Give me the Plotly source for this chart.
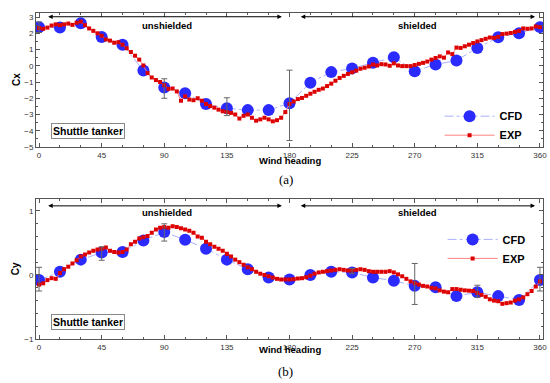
import plotly.graph_objects as go

# ---------------- data ----------------
cfd_heading = [0, 15, 30, 45, 60, 75, 90, 105, 120, 135, 150, 165, 180,
               195, 210, 225, 240, 255, 270, 285, 300, 315, 330, 345, 360]
cfd_cx = [2.38, 2.35, 2.62, 1.77, 1.30, -0.29, -1.34, -1.69, -2.36, -2.62, -2.73, -2.73, -2.30,
          -1.04, -0.39, -0.16, 0.18, 0.53, -0.33, 0.08, 0.32, 1.10, 1.75, 2.01, 2.38]
cfd_cy = [-0.08, 0.05, 0.24, 0.35, 0.36, 0.54, 0.67, 0.55, 0.41, 0.24, 0.09, -0.04, -0.07,
          0.0, 0.05, 0.04, -0.04, -0.09, -0.17, -0.19, -0.33, -0.27, -0.33, -0.39, -0.08]

exp_heading = list(range(0, 361, 3))
exp_cx = [2.32, 2.28, 2.35, 2.48, 2.55, 2.50, 2.55, 2.60, 2.52, 2.65,
          2.72, 2.50, 2.30, 2.15, 2.00, 1.85, 1.62, 1.55, 1.42, 1.45,
          1.30, 1.08, 0.85, 0.62, 0.38, 0.02, -0.45, -0.72, -0.88, -1.00,
          -1.20, -1.42, -1.40, -1.58, -2.15, -1.88, -2.08, -2.12, -2.00, -2.15,
          -2.35, -2.48, -2.58, -2.70, -2.80, -2.85, -2.90, -3.00, -3.25, -3.08,
          -3.00, -3.20, -3.38, -3.30, -3.20, -3.30, -3.42, -3.35, -3.20, -2.85,
          -2.35, -2.20, -2.05, -1.98, -1.85, -1.72, -1.60, -1.48, -1.40, -1.25,
          -1.10, -0.92, -0.75, -0.62, -0.50, -0.40, -0.30, -0.18, -0.12, -0.04,
          0.08, 0.02, 0.10, 0.08, 0.00, 0.15, 0.02, -0.02, -0.02, -0.02,
          0.05, 0.12, 0.18, 0.26, 0.38, 0.48, 0.58, 0.50, 0.82, 0.72,
          1.12, 1.10, 1.20, 1.30, 1.40, 1.50, 1.58, 1.66, 1.74, 1.72,
          1.78, 1.95, 1.98, 2.02, 2.08, 2.15, 2.30, 2.28, 2.30, 2.42,
          2.38]
exp_cy = [-0.15, -0.13, -0.08, -0.05, -0.06, 0.03, 0.09, 0.13, 0.18, 0.23,
          0.29, 0.32, 0.35, 0.38, 0.40, 0.41, 0.43, 0.38, 0.36, 0.35,
          0.36, 0.40, 0.48, 0.52, 0.57, 0.59, 0.61, 0.66, 0.71, 0.74,
          0.75, 0.74, 0.76, 0.75, 0.73, 0.71, 0.69, 0.66, 0.60, 0.58,
          0.52, 0.48, 0.44, 0.41, 0.38, 0.33, 0.29, 0.24, 0.20, 0.16,
          0.12, 0.09, 0.05, 0.02, 0.00, -0.02, -0.04, -0.06, -0.07, -0.07,
          -0.07, -0.065, -0.055, -0.05, -0.035, -0.01, 0.02, 0.04, 0.05, 0.06,
          0.07, 0.08, 0.09, 0.08, 0.07, 0.07, 0.08, 0.09, 0.08, 0.06,
          0.05, 0.05, 0.05, 0.05, 0.06, 0.04, 0.01, -0.02, -0.06, -0.10,
          -0.13, -0.15, -0.17, -0.18, -0.20, -0.21, -0.24, -0.26, -0.27, -0.22,
          -0.22, -0.23, -0.24, -0.245, -0.25, -0.28, -0.31, -0.34, -0.38, -0.40,
          -0.41, -0.45, -0.44, -0.43, -0.40, -0.38, -0.35, -0.30, -0.25, -0.18,
          -0.10]

# uncertainty bars (heading, low, high)
err_cx_heading = [0, 90, 135, 180]
err_cx_low = [2.05, -2.00, -3.07, -4.60]
err_cx_high = [2.70, -0.80, -1.97, -0.27]
err_cy_heading = [0, 45, 90, 225, 270, 315, 360]
err_cy_low = [-0.25, 0.23, 0.53, 0.02, -0.46, -0.35, -0.25]
err_cy_high = [0.12, 0.44, 0.80, 0.10, 0.18, -0.16, 0.12]

x_ticks = [0, 45, 90, 135, 180, 225, 270, 315, 360]
cx_ticks = [3, 2, 1, 0, -1, -2, -3, -4, -5]
cy_ticks = [1, 0, -1]

# ---------------- styles ----------------
CFD_MARKER = "#2b2bff"
CFD_LINE = "#aab0ff"
EXP_MARKER = "#dd0000"
EXP_LINE = "#ff8080"
AXIS = "#555555"
FONT = "Liberation Sans"

fig = go.Figure()

panels = [
    dict(cx="x", cy="y", yv_cfd=cfd_cx, yv_exp=exp_cx, eh=err_cx_heading, el=err_cx_low, ehh=err_cx_high, legend="legend"),
    dict(cx="x2", cy="y2", yv_cfd=cfd_cy, yv_exp=exp_cy, eh=err_cy_heading, el=err_cy_low, ehh=err_cy_high, legend="legend2"),
]
for p in panels:
    fig.add_trace(go.Scatter(
        x=cfd_heading, y=p["yv_cfd"], xaxis=p["cx"], yaxis=p["cy"], name="CFD",
        mode="lines+markers", legend=p["legend"],
        line=dict(color=CFD_LINE, width=1, dash="dashdot"),
        marker=dict(color=CFD_MARKER, size=12, symbol="circle")))
    fig.add_trace(go.Scatter(
        x=exp_heading, y=p["yv_exp"], xaxis=p["cx"], yaxis=p["cy"], name="EXP",
        mode="lines+markers", legend=p["legend"],
        line=dict(color=EXP_LINE, width=1),
        marker=dict(color=EXP_MARKER, size=4, symbol="square")))
    mid = [(a + b) / 2 for a, b in zip(p["el"], p["ehh"])]
    half = [(b - a) / 2 for a, b in zip(p["el"], p["ehh"])]
    fig.add_trace(go.Scatter(
        x=p["eh"], y=mid, xaxis=p["cx"], yaxis=p["cy"], mode="markers", showlegend=False,
        marker=dict(size=1, color="rgba(0,0,0,0)"),
        error_y=dict(type="data", array=half, color="#666666", thickness=1, width=3)))

xcommon = dict(range=[-2.2, 362.2], tickvals=x_ticks, ticks="inside", ticklen=4,
               tickcolor=AXIS, showline=True, linecolor=AXIS, linewidth=1, mirror="allticks",
               showgrid=False, zeroline=False, automargin=False, ticklabeloverflow="allow",
               minor=dict(dtick=15, tick0=0, ticks="inside", ticklen=2, tickcolor=AXIS),
               tickfont=dict(family=FONT, size=8, color="#333333"))
ycommon = dict(ticks="inside", ticklen=4, tickcolor=AXIS, showline=True, linecolor=AXIS,
               linewidth=1, mirror="allticks", showgrid=False, zeroline=False, automargin=False,
               tickfont=dict(family=FONT, size=8, color="#333333"))

fig.update_layout(
    width=550, height=383,
    margin=dict(l=36, r=7, t=13, b=44),
    paper_bgcolor="white", plot_bgcolor="white",
    font=dict(family=FONT, color="black"),
    xaxis=dict(**xcommon, anchor="y"),
    yaxis=dict(**ycommon, domain=[0.589, 1.0], range=[-5, 3.25], tickvals=cx_ticks,
               minor=dict(dtick=0.5, ticks="inside", ticklen=2, tickcolor=AXIS)),
    xaxis2=dict(**xcommon, anchor="y2"),
    yaxis2=dict(**ycommon, domain=[0.0, 0.428], range=[-1, 1.18], tickvals=cy_ticks,
                minor=dict(dtick=0.2, ticks="inside", ticklen=2, tickcolor=AXIS)),
    legend=dict(x=0.796, y=0.728, xanchor="left", yanchor="top", bgcolor="rgba(0,0,0,0)",
                font=dict(family=FONT, size=11, color="black", weight="bold"), itemwidth=50,
                tracegroupgap=0),
    legend2=dict(x=0.802, y=0.350, xanchor="left", yanchor="top", bgcolor="rgba(0,0,0,0)",
                 font=dict(family=FONT, size=11, color="black", weight="bold"), itemwidth=50,
                 tracegroupgap=0),
    showlegend=True,
)

bold = dict(family=FONT, size=9.5, color="black", weight="bold")
ann = []
# region arrows and labels
for xr, yr, yarrow, ylab in [("x", "y", 3.02, 2.51), ("x2", "y2", 1.08, 0.98)]:
    for a, b in [(5.5, 174.5), (187, 356.5)]:
        ann.append(dict(x=b, y=yarrow, ax=a, ay=yarrow, xref=xr, yref=yr, axref=xr, ayref=yr,
                        text="", showarrow=True, arrowhead=2, startarrowhead=2,
                        arrowside="end+start", arrowsize=0.9, startarrowsize=0.9,
                        arrowwidth=1, arrowcolor="black", standoff=0, startstandoff=0))
    ann.append(dict(x=92, y=ylab, xref=xr, yref=yr, text="unshielded", showarrow=False, font=bold))
    ann.append(dict(x=272, y=ylab, xref=xr, yref=yr, text="shielded", showarrow=False, font=bold))

# shuttle tanker boxes
for xr, yr, yv in [("x", "y", -4.02), ("x2", "y2", -0.73)]:
    ann.append(dict(x=35, y=yv, xref=xr, yref=yr, text="Shuttle tanker", showarrow=False,
                    font=dict(family=FONT, size=10.5, color="black", weight="bold"),
                    bgcolor="white", bordercolor="#888888", borderwidth=1, borderpad=1))

# axis titles
ann.append(dict(x=0, y=0.5, xref="paper", yref="y domain", xshift=-19, xanchor="center",
                text="Cx", textangle=-90, showarrow=False,
                font=dict(family=FONT, size=10, weight="bold")))
ann.append(dict(x=0, y=0.5, xref="paper", yref="y2 domain", xshift=-21, xanchor="center",
                text="Cy", textangle=-90, showarrow=False,
                font=dict(family=FONT, size=10, weight="bold")))
ann.append(dict(x=0.5, y=0, xref="paper", yref="y domain", yshift=-14, yanchor="middle",
                text="Wind heading", showarrow=False,
                font=dict(family=FONT, size=9.5, weight="bold")))
ann.append(dict(x=0.5, y=0, xref="paper", yref="y2 domain", yshift=-10, yanchor="middle",
                text="Wind heading", showarrow=False,
                font=dict(family=FONT, size=9.5, weight="bold")))
ann.append(dict(x=0.493, y=0, xref="paper", yref="y domain", yshift=-33, yanchor="middle",
                text="(a)", showarrow=False, font=dict(family="Liberation Serif", size=13)))
ann.append(dict(x=0.493, y=0, xref="paper", yref="y2 domain", yshift=-32, yanchor="middle",
                text="(b)", showarrow=False, font=dict(family="Liberation Serif", size=13)))
fig.update_layout(annotations=ann)

fig.write_html("out.html", config={"displayModeBar": False},
               post_script="document.body.style.margin='0';document.body.style.overflow='hidden';")
